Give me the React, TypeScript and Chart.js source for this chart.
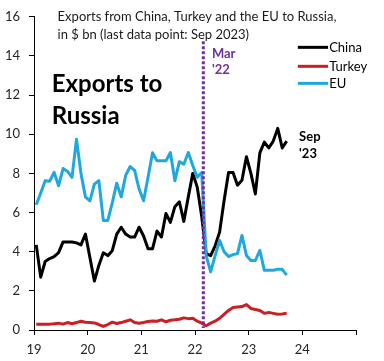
import React, { useEffect, useRef } from "react";
import { Chart, registerables } from "chart.js";

Chart.register(...registerables);

// Monthly data, Jan 2019 .. Sep 2023 ($ bn)
const startYear = 19;
const china = [
  4.35, 2.7, 3.5, 3.65, 3.75, 3.95, 4.5, 4.5, 4.5, 4.45, 4.35, 4.9,
  3.7, 2.5, 3.3, 3.95, 3.8, 4.05, 4.9, 5.25, 4.9, 4.75, 4.75, 5.25,
  4.8, 4.15, 4.15, 5.05, 4.75, 5.95, 5.5, 6.3, 6.55, 5.55, 6.8, 8.0,
  7.3, 5.8, 3.9, 3.8, 4.3, 5.0, 6.6, 8.05, 8.05, 7.4, 7.65, 8.85,
  8.0, 6.95, 9.05, 9.6, 9.3, 9.65, 10.3, 9.3, 9.65,
];
const turkey = [
  0.3, 0.3, 0.3, 0.3, 0.32, 0.35, 0.3, 0.38, 0.32, 0.38, 0.45, 0.4,
  0.38, 0.36, 0.28, 0.18, 0.28, 0.4, 0.33, 0.38, 0.45, 0.52, 0.38, 0.35,
  0.38, 0.44, 0.46, 0.45, 0.52, 0.42, 0.5, 0.52, 0.55, 0.62, 0.58, 0.6,
  0.45, 0.35, 0.22, 0.35, 0.45, 0.6, 0.8, 1.0, 1.15, 1.18, 1.2, 1.3,
  1.1, 1.05, 1.0, 0.85, 0.9, 0.85, 0.8, 0.82, 0.85,
];
const eu = [
  6.4, 7.0, 7.63, 7.6, 8.05, 7.37, 8.25, 8.1, 7.8, 9.75, 8.0, 6.8,
  6.6, 7.45, 7.63, 5.6, 5.6, 6.5, 7.5, 6.8, 7.9, 8.35, 8.15, 7.2,
  6.6, 7.8, 9.05, 8.64, 8.64, 8.64, 9.07, 7.62, 8.6, 8.47, 9.07, 8.4,
  7.8, 8.05, 3.8, 2.97, 3.8, 4.58, 4.0, 3.75, 3.85, 3.9, 4.83, 3.81,
  3.55, 3.55, 4.07, 3.05, 3.05, 3.05, 3.1, 3.1, 2.8,
];
const xTickValues = [19, 20, 21, 22, 23, 24, 25];
const yTickValues = [0, 2, 4, 6, 8, 10, 12, 14, 16];
const invasionX = 22.155;

const BLUE = "#1FA8DF";
const RED = "#CC1F24";
const PURPLE = "#7030A0";
const FONT = "Lato";

const toPoints = (arr: number[]) =>
  arr.map((v, i) => ({ x: startYear + (i + 0.5) / 12, y: v }));

const annotations = {
  id: "annotations",
  afterDatasetsDraw(chart: any) {
    const { ctx, scales } = chart;
    const x = scales.x;
    const y = scales.y;
    const px = (v: number) => x.getPixelForValue(v);
    const py = (v: number) => y.getPixelForValue(v);
    ctx.save();
    // dotted vertical line
    ctx.strokeStyle = PURPLE;
    ctx.lineWidth = 3;
    ctx.setLineDash([3, 2]);
    ctx.beginPath();
    ctx.moveTo(px(invasionX), py(14.75));
    ctx.lineTo(px(invasionX), py(0.1));
    ctx.stroke();
    ctx.setLineDash([]);

    ctx.textBaseline = "middle";
    ctx.textAlign = "left";
    // title
    ctx.fillStyle = "#1a1a1a";
    ctx.font = `13px ${FONT}`;
    ctx.fillText("Exports from China, Turkey and the EU to Russia,", px(19.44), py(16.0));
    ctx.fillText("in $ bn (last data point: Sep 2023)", px(19.44), py(15.1));
    // big label
    ctx.fillStyle = "#000";
    ctx.font = `bold 24px ${FONT}`;
    ctx.fillText("Exports to", px(19.33), py(12.56));
    ctx.fillText("Russia", px(19.33), py(10.9));
    // Mar '22
    ctx.fillStyle = PURPLE;
    ctx.font = `bold 13px ${FONT}`;
    ctx.fillText("Mar", px(22.315), py(14.13));
    ctx.fillText("'22", px(22.315), py(13.3));
    // Sep '23
    ctx.fillStyle = "#000";
    ctx.fillText("Sep", px(23.94), py(9.86));
    ctx.fillText("'23", px(23.94), py(9.0));
    // legend
    const items: [string, string, number][] = [
      ["China", "#000", 14.44],
      ["Turkey", RED, 13.47],
      ["EU", BLUE, 12.6],
    ];
    ctx.font = `13px ${FONT}`;
    for (const [label, color, yy] of items) {
      ctx.strokeStyle = color;
      ctx.lineWidth = 3;
      ctx.beginPath();
      ctx.moveTo(px(23.916), py(yy));
      ctx.lineTo(px(24.48), py(yy));
      ctx.stroke();
      ctx.fillStyle = "#000";
      ctx.fillText(label, px(24.5), py(yy));
    }
    ctx.restore();
  },
};

export default function App() {
  const ref = useRef<HTMLCanvasElement | null>(null);
  useEffect(() => {
    if (!ref.current) return;
    const ds = (label: string, data: number[], color: string, order: number) => ({
      label,
      data: toPoints(data),
      borderColor: color,
      backgroundColor: color,
      borderWidth: 3,
      pointRadius: 0,
      tension: 0,
      borderJoinStyle: "round" as const,
      order,
    });
    const chart = new Chart(ref.current, {
      type: "line",
      data: {
        datasets: [
          ds("China", china, "#000", 1),
          ds("Turkey", turkey, RED, 2),
          ds("EU", eu, BLUE, 0),
        ],
      },
      options: {
        animation: false,
        responsive: false,
        maintainAspectRatio: false,
        layout: { padding: { top: 15, right: 28, left: 0, bottom: 0 } },
        plugins: { legend: { display: false }, tooltip: { enabled: false } },
        scales: {
          x: {
            type: "linear",
            min: 19,
            max: 25,
            afterBuildTicks: (s: any) => {
              s.ticks = xTickValues.map((v) => ({ value: v }));
            },
            afterFit: (s: any) => {
              s.height = 31;
            },
            ticks: {
              autoSkip: false,
              maxRotation: 0,
              padding: 7,
              color: "#262626",
              font: { family: FONT, size: 13 },
              callback: (v: any) => (v === 25 ? "" : String(v)),
            },
            grid: { drawOnChartArea: false, drawTicks: true, tickLength: 5, color: "#000" },
            border: { color: "#000", width: 1 },
          },
          y: {
            type: "linear",
            min: 0,
            max: 16,
            afterBuildTicks: (s: any) => {
              s.ticks = yTickValues.map((v) => ({ value: v }));
            },
            afterFit: (s: any) => {
              s.width = 34;
            },
            ticks: {
              padding: 9,
              color: "#262626",
              font: { family: FONT, size: 13 },
            },
            grid: { drawOnChartArea: false, drawTicks: true, tickLength: 5, color: "#000" },
            border: { color: "#000", width: 1 },
          },
        },
      },
      plugins: [annotations],
    });
    return () => chart.destroy();
  }, []);
  return (
    <div style={{ position: "fixed", left: 0, top: 0, width: 384, height: 361, background: "#fff" }}>
      <canvas ref={ref} width={384} height={361} style={{ width: 384, height: 361 }} />
    </div>
  );
}
